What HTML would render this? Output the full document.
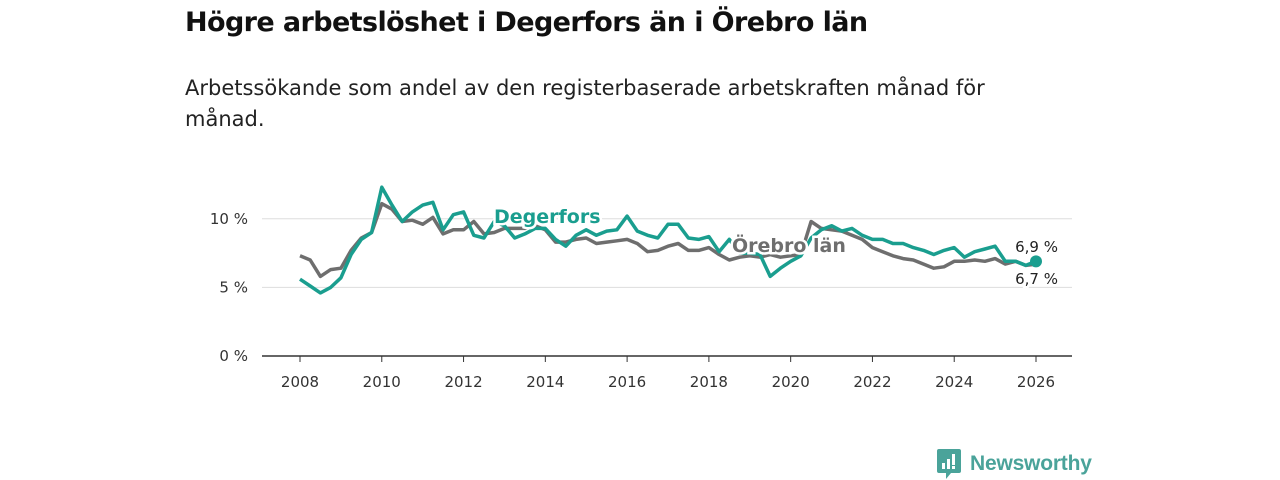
<!DOCTYPE html>
<html><head><meta charset="utf-8">
<style>
body{margin:0;width:1280px;height:480px;background:#fff;font-family:"DejaVu Sans","Liberation Sans",sans-serif;overflow:hidden;position:relative}
h1{position:absolute;left:185px;top:7px;margin:0;font-size:27px;font-weight:bold;color:#111;letter-spacing:-0.6px}
p.sub{position:absolute;left:185px;top:73px;margin:0;font-size:21px;line-height:31px;color:#222;width:840px}
svg{position:absolute;left:0;top:0}
.tick{font-size:15px;fill:#333;font-family:"DejaVu Sans",sans-serif}
</style></head><body>
<h1>Högre arbetslöshet i Degerfors än i Örebro län</h1>
<p class="sub">Arbetssökande som andel av den registerbaserade arbetskraften månad för månad.</p>
<svg id="chart" width="1280" height="480"></svg>
<div style="position:absolute;left:937px;top:449px;display:flex;align-items:center">
<svg width="24" height="30" style="position:static"><path d="M0 2 Q0 0 2 0 H22 Q24 0 24 2 V22 Q24 24 22 24 H14 L9 30 V24 H2 Q0 24 0 22Z" fill="#4aa39a"/><rect x="5" y="14" width="3" height="6" fill="#fff"/><rect x="10" y="10" width="3" height="10" fill="#fff"/><rect x="15" y="5" width="3" height="11" fill="#fff"/><rect x="15" y="17" width="3" height="3" fill="#fff"/></svg>
<span style="font-size:21px;color:#4aa39a;margin-left:9px;font-weight:bold;letter-spacing:-0.2px;font-family:'Liberation Sans',sans-serif">Newsworthy</span></div>
<script>
const years=[2008,2010,2012,2014,2016,2018,2020,2022,2024,2026];
const yTicks=[0,5,10];
const degerfors=[5.6,5.1,4.6,5.0,5.7,7.4,8.5,9.0,12.3,11.0,9.8,10.5,11.0,11.2,9.2,10.3,10.5,8.8,8.6,9.8,9.5,8.6,8.9,9.3,9.3,8.5,8.0,8.8,9.2,8.8,9.1,9.2,10.2,9.1,8.8,8.6,9.6,9.6,8.6,8.5,8.7,7.6,8.5,7.5,7.5,7.4,5.8,6.4,6.9,7.3,8.6,9.2,9.5,9.1,9.3,8.8,8.5,8.5,8.2,8.2,7.9,7.7,7.4,7.7,7.9,7.2,7.6,7.8,8.0,6.9,6.9,6.6,6.9];
const orebro=[7.3,7.0,5.8,6.3,6.4,7.7,8.6,9.0,11.1,10.7,9.8,9.9,9.6,10.1,8.9,9.2,9.2,9.8,8.9,9.0,9.3,9.3,9.3,9.5,9.2,8.3,8.3,8.5,8.6,8.2,8.3,8.4,8.5,8.2,7.6,7.7,8.0,8.2,7.7,7.7,7.9,7.4,7.0,7.2,7.3,7.2,7.4,7.2,7.3,7.4,9.8,9.3,9.2,9.1,8.8,8.5,7.9,7.6,7.3,7.1,7.0,6.7,6.4,6.5,6.9,6.9,7.0,6.9,7.1,6.7,6.9,6.6,6.7];
const NS='http://www.w3.org/2000/svg';
const svg=document.getElementById('chart');
const x0=300,x1=1036,y0=356,pxPerPct=13.72;
const xs=t=>x0+(t-2008)*(x1-x0)/18;
const ys=v=>y0-v*pxPerPct;
const tAt=i=>2008+i*0.25;
function mk(tag,attrs){const e=document.createElementNS(NS,tag);for(const k in attrs)e.setAttribute(k,attrs[k]);svg.appendChild(e);return e;}
yTicks.forEach(v=>{
 if(v>0){const g=mk('line',{x1:262,x2:1072,y1:ys(v),y2:ys(v),stroke:'#ddd','stroke-width':1});
 
 }
 const t=mk('text',{x:248,y:ys(v)+5,'text-anchor':'end',class:'tick'});t.textContent=v+' %';
 
 
});
const ax=mk('line',{x1:262,x2:1072,y1:y0,y2:y0,stroke:'#333','stroke-width':1.5});


years.forEach(yr=>{
 const tk=mk('line',{x1:xs(yr),x2:xs(yr),y1:y0,y2:y0+6,stroke:'#333'});
 
 
 const t=mk('text',{x:xs(yr),y:y0+31,'text-anchor':'middle',class:'tick'});t.textContent=yr;
 
 
});
function line(arr,color,name){
 const d=arr.map((v,i)=>(i?'L':'M')+xs(tAt(i)).toFixed(1)+' '+ys(v).toFixed(1)).join(' ');
 const p=mk('path',{d:d,fill:'none',stroke:color,'stroke-width':3.5,'stroke-linejoin':'round'});
 
 
}
line(orebro,'#6e6e6e','orebro-line');
line(degerfors,'#1a9e8f','degerfors-line');
function lab(x,y,txt,col,size,w,name,anchor){
 const t=mk('text',{x:x,y:y,fill:col,'font-size':size,'font-weight':w,stroke:'#fff','stroke-width':5,'paint-order':'stroke','text-anchor':anchor||'start','font-family':'DejaVu Sans, sans-serif'});
 t.textContent=txt;
 
 
}
lab(494,223,'Degerfors','#1a9e8f',19,'bold','degerfors-label');
lab(732,252,'Örebro län','#6e6e6e',19,'bold','orebro-label');
const n=degerfors.length-1;
const dot=mk('circle',{cx:xs(tAt(n)),cy:ys(degerfors[n]),r:6,fill:'#1a9e8f'});


lab(1058,252,'6,9 %','#222',15,'normal','degerfors-end-value','end');
lab(1058,284,'6,7 %','#222',15,'normal','orebro-end-value','end');
</script>
</body></html>
